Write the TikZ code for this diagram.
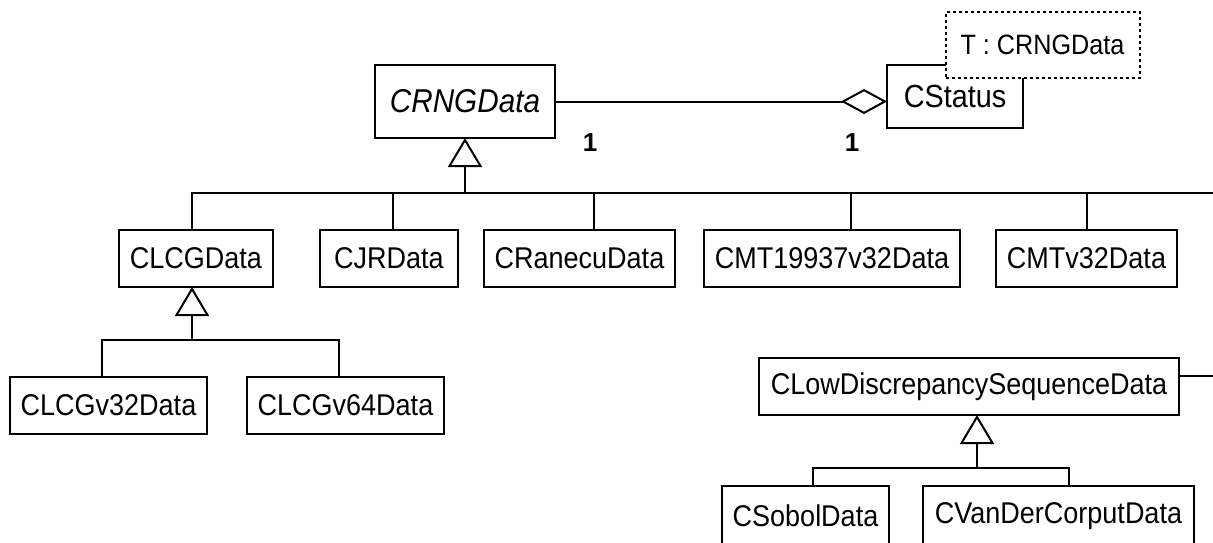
\documentclass[tikz,border=0pt]{standalone}
\usepackage{fontspec}
\setmainfont{Liberation Sans}
\newfontfamily\umlfont[FakeStretch=0.9]{Liberation Sans}
\usetikzlibrary{arrows.meta}
\begin{document}
\begin{tikzpicture}[x=1pt,y=-1pt,
  cls/.style={draw, line width=2pt, fill=white, inner sep=0pt, outer sep=0pt, font=\umlfont\fontsize{30}{34}\selectfont},
  conn/.style={line width=2pt},
  gen/.style={conn, -{Triangle[open, length=29pt, width=34pt, line width=2pt]}},
  agg/.style={conn, -{Diamond[open, length=46pt, width=25pt, line width=2pt]}},
  mult/.style={font=\bfseries\fontsize{26}{30}\selectfont},
  notebox/.style={draw, line width=2pt, dash pattern=on 3pt off 3pt, fill=white, inner sep=0pt, outer sep=0pt, font=\umlfont\fontsize{28}{32}\selectfont}
]
\clip (0,0) rectangle (1213,543);
\fill[white] (0,0) rectangle (1213,543);

% classes
\node[cls, minimum width=180pt, minimum height=73pt] (crng) at (465,101.5) {\fontsize{33}{36}\selectfont\itshape CRNGData};
\node[cls, minimum width=136pt, minimum height=63pt] (cstatus) at (955,96.5) {\fontsize{32}{36}\selectfont CStatus};
\node[notebox, minimum width=194pt, minimum height=66pt] (note) at (1042.5,45) {T : CRNGData};

\node[cls, minimum width=154pt, minimum height=57pt] (clcg) at (196,258.5) {CLCGData};
\node[cls, minimum width=138pt, minimum height=57pt] (cjr) at (389,258.5) {CJRData};
\node[cls, minimum width=191pt, minimum height=57pt] (cranecu) at (579.5,258.5) {CRanecuData};
\node[cls, minimum width=256pt, minimum height=57pt] (cmt) at (832,258.5) {CMT19937v32Data};
\node[cls, minimum width=181pt, minimum height=57pt] (cmtv) at (1086.5,258.5) {CMTv32Data};

\node[cls, minimum width=197pt, minimum height=57pt] (v32) at (108.5,405.5) {CLCGv32Data};
\node[cls, minimum width=197pt, minimum height=57pt] (v64) at (345.5,405.5) {CLCGv64Data};

\node[cls, minimum width=420pt, minimum height=57pt] (clds) at (969,386.5) {CLowDiscrepancySequenceData};
\node[cls, minimum width=167pt, minimum height=60pt] (sobol) at (805.5,516) {CSobolData};
\node[cls, minimum width=271pt, minimum height=60pt] (vdc) at (1058.5,516) {CVanDerCorputData};

% association
\draw[agg] (crng.east) -- (crng.east -| cstatus.west);
\node[mult] (m1) at (590,143) {1};
\node[mult] (m2) at (852,143) {1};

% generalization of CRNGData
\coordinate (j1) at (465,193);
\coordinate (eR) at (1216,193);
\draw[gen] (j1) -- (crng.south);
\draw[conn] (j1) -- (eR);
\draw[conn] (j1) -| ([xshift=-4pt]clcg.north);
\draw[conn] (j1) -| ([xshift=4pt]cjr.north);
\draw[conn] (j1) -| ([xshift=14.5pt]cranecu.north);
\draw[conn] (j1) -| ([xshift=19pt]cmt.north);
\draw[conn] (j1) -| ([xshift=0.5pt]cmtv.north);

% generalization of CLCGData
\coordinate (j2) at (192,340);
\draw[gen] (j2) -- ([xshift=-4pt]clcg.south);
\draw[conn] (j2) -| ([xshift=-6.5pt]v32.north);
\draw[conn] (j2) -| ([xshift=-6.5pt]v64.north);

% generalization of CLowDiscrepancySequenceData
\coordinate (j3) at (977,468);
\coordinate (eR2) at (1216,376);
\draw[gen] (j3) -- ([xshift=8pt]clds.south);
\draw[conn] (j3) -| ([xshift=7.5pt]sobol.north);
\draw[conn] (j3) -| ([xshift=10.5pt]vdc.north);
\draw[conn] ([yshift=10.5pt]clds.east) -- (eR2);
\end{tikzpicture}
\end{document}
